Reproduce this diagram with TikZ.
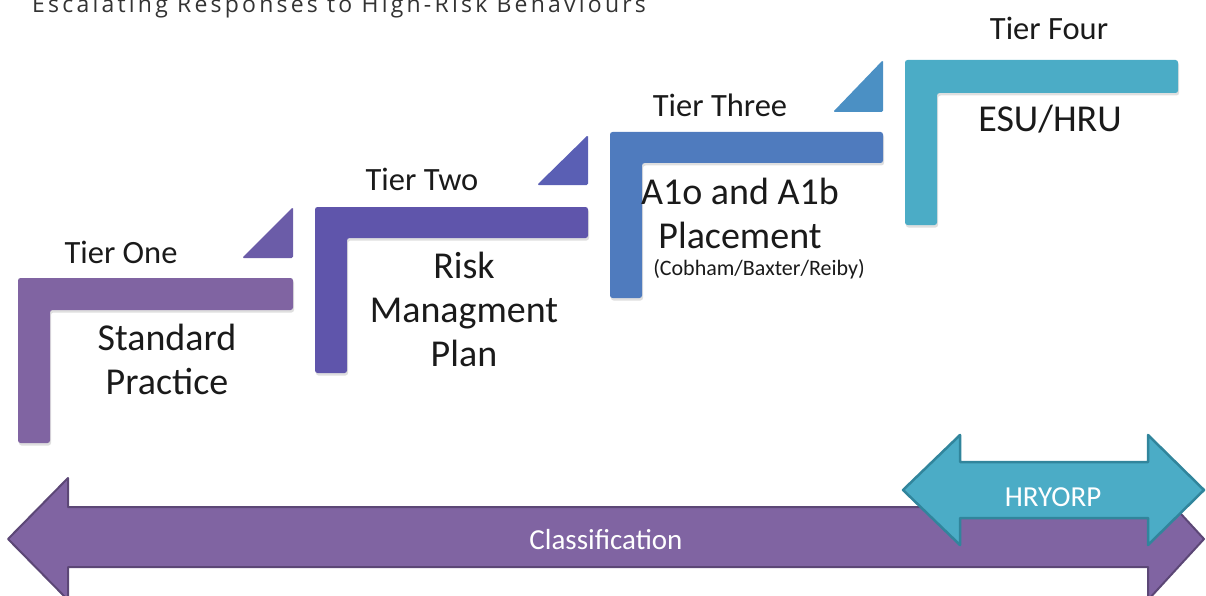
\documentclass[tikz,border=0pt]{standalone}
\usepackage{fontspec}
\setmainfont{Carlito}
\newfontfamily\titlefont[LetterSpace=14]{Open Sans}
\usetikzlibrary{shadows}
\definecolor{tone}{HTML}{8064A2}
\definecolor{ttwo}{HTML}{5F55AB}
\definecolor{tthree}{HTML}{4F7BBE}
\definecolor{tfour}{HTML}{4BACC6}
\definecolor{triA}{HTML}{6B5CA8}
\definecolor{triB}{HTML}{5A5FB4}
\definecolor{triC}{HTML}{4B90C4}
\definecolor{clsborder}{HTML}{5C4776}
\definecolor{hrborder}{HTML}{31859C}
\definecolor{txt}{HTML}{1A1A1A}
\definecolor{ttl}{HTML}{333333}
\tikzset{
  stair/.style={rounded corners=2.5pt, drop shadow={opacity=0.25, shadow xshift=1pt, shadow yshift=-2.5pt}},
  tri/.style={rounded corners=1.5pt},
  tierlbl/.style={font=\fontsize{32.5}{36}\selectfont, text=txt, inner sep=0pt},
  mainlbl/.style={font=\fontsize{38}{44}\selectfont, text=txt, align=center, inner sep=0pt},
  arrowlbl/.style={text=white, inner sep=0pt, font=\fontsize{29}{32}\selectfont},
}
\begin{document}
\begin{tikzpicture}[x=1pt,y=-1pt]
\useasboundingbox (0,0) rectangle (1206,596);
% title
\node[anchor=base west, text=ttl, font=\titlefont\fontsize{23}{26}\selectfont, inner sep=0pt] (title) at (32,13) {Escalating Responses to High-Risk Behaviours};
% Tier one
\fill[tone, stair] (18,278) -- (293,278) -- (293,310) -- (50,310) -- (50,443) -- (18,443) -- cycle;
\fill[triA, tri] (293,207) -- (293,258) -- (242,258) -- cycle;
\node[tierlbl] (t1) at (121,252) {Tier One};
\node[mainlbl] (m1) at (167,359) {Standard\\Practice};
% Tier two
\fill[ttwo, stair] (315,207) -- (588,207) -- (588,238) -- (347,238) -- (347,373) -- (315,373) -- cycle;
\fill[triB, tri] (588,135) -- (588,185) -- (537,185) -- cycle;
\node[tierlbl] (t2) at (422,179) {Tier Two};
\node[mainlbl] (m2) at (464,309) {Risk\\Managment\\Plan};
% Tier three
\fill[tthree, stair] (610,132) -- (883,132) -- (883,163) -- (642,163) -- (642,298) -- (610,298) -- cycle;
\fill[triC, tri] (883,60) -- (883,112) -- (833,112) -- cycle;
\node[tierlbl] (t3) at (720,105) {Tier Three};
\node[mainlbl] (m3) at (740,213) {A1o and A1b\\Placement};
\node[text=txt, font=\fontsize{22}{24}\selectfont, inner sep=0pt] (m3s) at (759,269) {(Cobham/Baxter/Reiby)};
% Tier four
\fill[tfour, stair] (905,60) -- (1178,60) -- (1178,93) -- (937,93) -- (937,225) -- (905,225) -- cycle;
\node[tierlbl] (t4) at (1049,28) {Tier Four};
\node[mainlbl] (m4) at (1050,119) {ESU/HRU};
% Classification arrow
\filldraw[fill=tone, draw=clsborder, line width=2pt, line join=round]
  (8,539) -- (68,478) -- (68,507) -- (1148,507) -- (1148,478) -- (1204,539) -- (1148,600) -- (1148,567) -- (68,567) -- (68,600) -- cycle;
\node[arrowlbl] (cls) at (606,540) {Classification};
% HRYORP arrow
\filldraw[fill=tfour, draw=hrborder, line width=2.5pt, line join=round]
  (903,490) -- (960,435) -- (960,462) -- (1148,462) -- (1148,435) -- (1204,490) -- (1148,545) -- (1148,518) -- (960,518) -- (960,545) -- cycle;
\node[arrowlbl] (hr) at (1053,497) {HRYORP};
\end{tikzpicture}
\end{document}
